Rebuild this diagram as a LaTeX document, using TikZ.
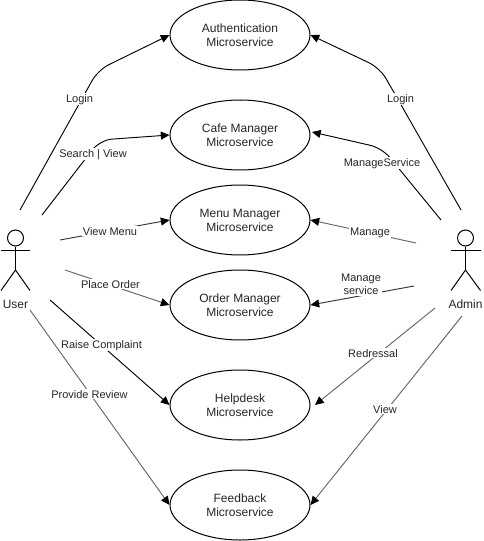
\documentclass[tikz,border=0pt]{standalone}
\usepackage{fontspec}
\setmainfont{Liberation Sans}
\usetikzlibrary{shapes.geometric,arrows.meta}
\tikzset{
  usecase/.style={draw=black,line width=0.75pt,ellipse,minimum width=105pt,minimum height=52.5pt,inner sep=0pt,align=center,text=black!85,font=\fontsize{9}{10.5}\selectfont,execute at begin node={\rule{0pt}{9pt}}},
  conn/.style={line width=0.7pt,rounded corners=9pt,-{Triangle[length=6.5pt,width=6pt,color=black,fill=black]}},
  elabel/.style={fill=white,inner sep=0.6pt,align=center,yshift=-1pt,text=black!85,font=\fontsize{8.25}{10}\selectfont},
  head/.style={draw=black,line width=0.75pt,circle,minimum size=12pt,inner sep=0pt},
  actorname/.style={inner sep=0pt,text=black!85,font=\fontsize{9}{11}\selectfont},
  limb/.style={line width=0.75pt,draw=black},
  soft/.style={draw=black!60},
  mid/.style={draw=black!80}
}
\begin{document}
\begin{tikzpicture}[x=0.75pt,y=-0.75pt]
\useasboundingbox (0,0) rectangle (483,541);
\fill[white] (0,0) rectangle (483,541);
% use cases
\node[usecase] (auth) at (240,35) {Authentication\\Microservice};
\node[usecase] (cafe) at (240,135) {Cafe Manager\\Microservice};
\node[usecase] (menu) at (240,220) {Menu Manager\\Microservice};
\node[usecase] (order) at (240,305) {Order Manager\\Microservice};
\node[usecase] (help) at (240,405) {Helpdesk\\Microservice};
\node[usecase] (feed) at (240,505) {Feedback\\Microservice};
% actors
\node[head] (uhead) at (15.5,238) {};
\coordinate (uhip) at (15.5,270);
\draw[limb] (uhead.south) -- (uhip);
\draw[limb] (1,250) -- (30,250);
\draw[limb] (1,290.5) -- (uhip) -- (30,290.5);
\node[actorname] (user) at (15.5,304.5) {User};
\node[head] (ahead) at (465.5,238) {};
\coordinate (ahip) at (465.5,270);
\draw[limb] (ahead.south) -- (ahip);
\draw[limb] (451,250) -- (480.5,250);
\draw[limb] (451,290.5) -- (ahip) -- (480.5,290.5);
\node[actorname] (admin) at (465.5,304.5) {Admin};
% free ends
\coordinate (u1) at (20,210);
\coordinate (u2) at (42,215);
\coordinate (u3) at (60,240);
\coordinate (u4) at (65,270);
\coordinate (u5) at (50,300);
\coordinate (u6) at (30,310);
\coordinate (a1) at (461,210);
\coordinate (a2) at (441,220);
\coordinate (a3) at (416,243);
\coordinate (a4) at (414,286);
\coordinate (a5) at (435,308);
\coordinate (a6) at (462,316);
% connectors
\draw[conn] (u1) -- (98,70) -- (auth.west);
\draw[conn] (u2) -- (100,140) -- (cafe.west);
\draw[conn,mid] (u3) -- (menu.west);
\draw[conn,soft] (u4) -- (order.west);
\draw[conn] (u5) -- (help.west);
\draw[conn,soft] (u6) -- (feed.west);
\draw[conn] (a1) -- (380,68) -- (auth.east);
\draw[conn] (a2) -- (382,148) -- (312,132);
\draw[conn,soft] (a3) -- (menu.east);
\draw[conn,mid] (a4) -- (order.east);
\draw[conn,soft] (a5) -- (315,405);
\draw[conn,soft] (a6) -- (feed.east);
% labels
\node[elabel] (l1) at (79.5,98) {Login};
\node[elabel] (l2) at (93,153) {Search | View};
\node[elabel] (l3) at (110,230) {View Menu};
\node[elabel] (l4) at (110.5,283) {Place Order};
\node[elabel] (l5) at (101.5,344) {Raise Complaint};
\node[elabel] (l6) at (89.5,393) {Provide Review};
\node[elabel] (l7) at (400.5,98) {Login};
\node[elabel] (l8) at (382,162) {ManageService};
\node[elabel] (l9) at (370,232) {Manage};
\node[elabel] (l10) at (361,283) {Manage\\service};
\node[elabel] (l11) at (373,352) {Redressal};
\node[elabel] (l12) at (385,408) {View};
\end{tikzpicture}
\end{document}
